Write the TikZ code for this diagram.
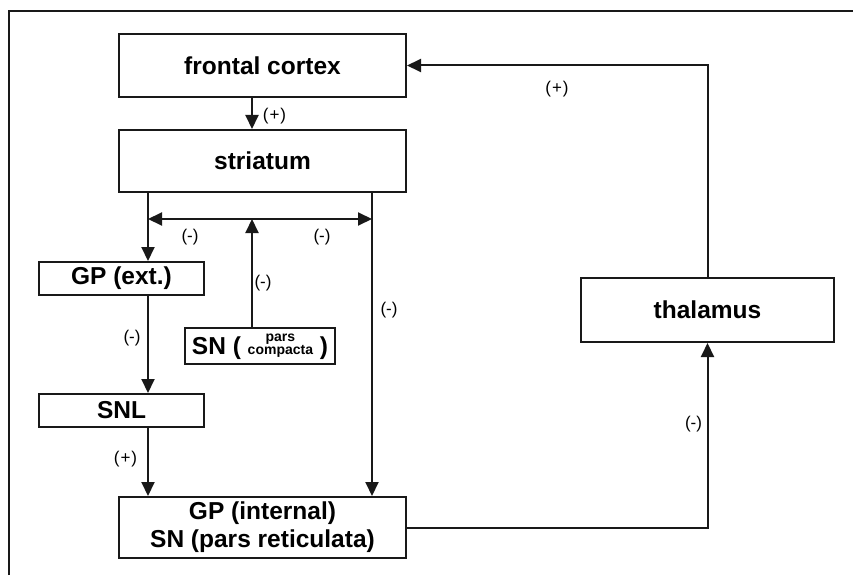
\documentclass[tikz,border=0pt]{standalone}
\usepackage{fontspec}
\setmainfont{Liberation Sans}
\usetikzlibrary{arrows.meta}
\begin{document}
\begin{tikzpicture}[x=1pt,y=-1pt,
  box/.style={draw=black!90, line width=2pt, fill=white, inner sep=0pt, align=center,
    font=\fontsize{24.5}{28}\selectfont\bfseries},
  conn/.style={draw=black!90, line width=2pt},
  arr/.style={conn, -{Triangle[length=14pt,width=13pt]}},
  arrboth/.style={conn, {Triangle[length=14pt,width=13pt]}-{Triangle[length=14pt,width=13pt]}},
  lab/.style={inner sep=0pt, font=\fontsize{17}{19}\selectfont}
]
\useasboundingbox (0,0) rectangle (853,575);
% frame (cropped)
\draw[line width=2pt, black!90] (9,575) -- (9,11) -- (853,11);

% boxes
\node[box, minimum width=287pt, minimum height=63pt] (fc) at (262.5,65.5) {frontal cortex};
\node[box, minimum width=287pt, minimum height=62pt] (str) at (262.5,161) {striatum};
\node[box, minimum width=165pt, minimum height=33pt] (gpe) at (121.5,278.5) {GP (ext.)};
\node[box, minimum width=150pt, minimum height=36pt] (snc) at (260,346)
  {SN ( {\fontsize{14}{12.5}\selectfont\begin{tabular}[b]{@{}c@{}}pars\\compacta\end{tabular}} )};
\node[box, minimum width=165pt, minimum height=33pt] (snl) at (121.5,410.5) {SNL};
\node[box, minimum width=287pt, minimum height=61pt] (gpi) at (262.5,527.5) {GP (internal)\\SN (pars reticulata)};
\node[box, minimum width=253pt, minimum height=64pt] (thal) at (707.5,310) {thalamus};

% helper coordinates
\coordinate (lx) at (148,0);
\coordinate (cx) at (252,0);
\coordinate (rx) at (372,0);
\coordinate (hl) at (148,219);
\coordinate (hr) at (372,219);

% connectors
\draw[arr] (fc.south -| cx) -- (str.north -| cx);
\draw[arr] (str.south -| lx) -- (gpe.north -| lx);
\draw[conn] (str.south -| rx) -- (hr);
\draw[arr] (hr) -- (gpi.north -| rx);
\draw[arrboth] (hl) -- (hr);
\draw[arr] (snc.north -| cx) -- (cx |- hl);
\draw[arr] (gpe.south -| lx) -- (snl.north -| lx);
\draw[arr] (snl.south -| lx) -- (gpi.north -| lx);
\draw[arr] (gpi.east) -| (thal.south);
\draw[arr] (thal.north) |- (fc.east);

% labels
\node[lab] (l1) at (274.5,116) {(\kern1pt+\kern1pt)};
\node[lab] (l2) at (190,237) {(-)};
\node[lab] (l3) at (322,237) {(-)};
\node[lab] (l4) at (263,283) {(-)};
\node[lab] (l5) at (389,310) {(-)};
\node[lab] (l6) at (132,338) {(-)};
\node[lab] (l7) at (125.5,459) {(\kern1pt+\kern1pt)};
\node[lab] (l8) at (557,89) {(\kern1pt+\kern1pt)};
\node[lab] (l9) at (693.5,424) {(-)};
\end{tikzpicture}
\end{document}
